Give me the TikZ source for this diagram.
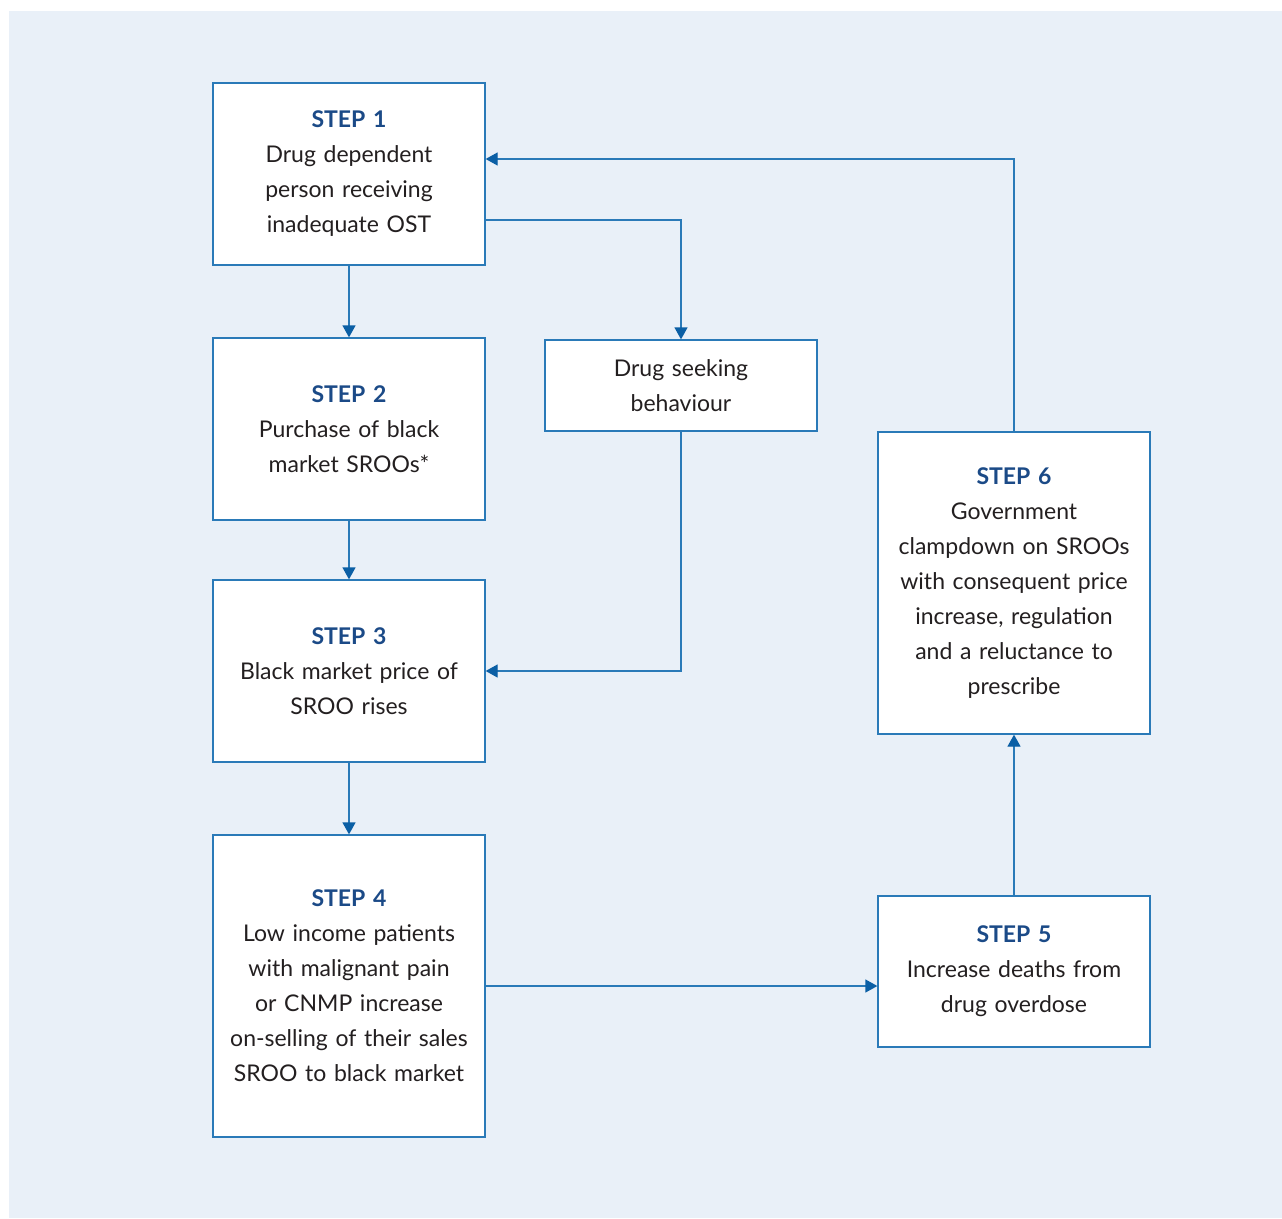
\documentclass[tikz,border=0pt]{standalone}
\usepackage{fontspec}
\setmainfont{Lato}
\usetikzlibrary{arrows.meta,calc}
\definecolor{bgblue}{HTML}{E9F0F8}
\definecolor{lineblue}{HTML}{2A7AB8}
\definecolor{tipblue}{HTML}{0B5FA5}
\definecolor{stepblue}{HTML}{1B4A87}
\definecolor{txt}{HTML}{231F20}
\tikzset{
  box/.style={draw=lineblue, line width=1.3pt, fill=white, minimum width=272pt, inner sep=4pt,
    align=center, text=txt, font=\fontsize{23}{35}\selectfont, text width=262pt},
  conn/.style={draw=lineblue, line width=1.3pt, -{Triangle[length=12pt,width=13pt,fill=tipblue,color=tipblue]}},
}
\newcommand{\stephead}[1]{{\color{stepblue}\bfseries STEP #1}}
\begin{document}
\begin{tikzpicture}[x=1pt,y=-1pt]
\fill[white] (0,0) rectangle (1282,1218);
\fill[bgblue] (9,11) rectangle (1282,1218);
\useasboundingbox (0,0) rectangle (1282,1218);
\node[box, minimum height=182pt] (s1) at (349,174) {\stephead{1}\\Drug dependent\\person receiving\\inadequate OST};
\node[box, minimum height=182pt] (s2) at (349,429) {\stephead{2}\\Purchase of black\\market SROOs*};
\node[box, minimum height=182pt] (s3) at (349,671) {\stephead{3}\\Black market price of\\SROO rises};
\node[box, minimum height=302pt] (s4) at (349,986) {\stephead{4}\\Low income patients\\with malignant pain\\or CNMP increase\\on-selling of their sales\\SROO to black market};
\node[box, minimum height=91pt] (ds) at (681,385.5) {Drug seeking\\behaviour};
\node[box, minimum height=302pt] (s6) at (1014,583) {\stephead{6}\\Government\\clampdown on SROOs\\with consequent price\\increase, regulation\\and a reluctance to\\prescribe};
\node[box, minimum height=151pt] (s5) at (1014,971.5) {\stephead{5}\\Increase deaths from\\drug overdose};
\draw[conn] (s1) -- (s2);
\draw[conn] (s2) -- (s3);
\draw[conn] (s3) -- (s4);
\draw[conn] ([yshift=-46pt]s1.east) -| (ds.north);
\draw[conn] (ds.south) |- (s3.east);
\draw[conn] (s6.north) |- ([yshift=15pt]s1.east);
\draw[conn] (s4.east) -- (s5.west |- s4.east);
\draw[conn] (s5) -- (s6);
\end{tikzpicture}
\end{document}
